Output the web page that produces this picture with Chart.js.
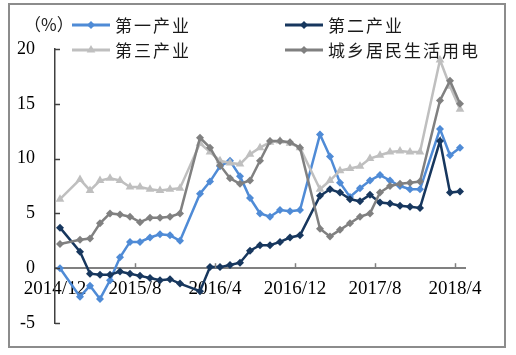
<!DOCTYPE html>
<html>
<head>
<meta charset="utf-8">
<script src="https://cdn.jsdelivr.net/npm/chart.js@4.4.1/dist/chart.umd.min.js"></script>
<style>
  html, body { margin: 0; padding: 0; background: #fff; }
  canvas { display: block; }
</style>
</head>
<body>
<canvas id="power" width="516" height="355"></canvas>
<script>
// months 2014/12 .. 2018/4 (January figures are not published separately -> null)
const months = [
  "2014/12",
  "2015/1", "2015/2", "2015/3", "2015/4", "2015/5", "2015/6", "2015/7", "2015/8", "2015/9", "2015/10", "2015/11", "2015/12",
  "2016/1", "2016/2", "2016/3", "2016/4", "2016/5", "2016/6", "2016/7", "2016/8", "2016/9", "2016/10", "2016/11", "2016/12",
  "2017/1", "2017/2", "2017/3", "2017/4", "2017/5", "2017/6", "2017/7", "2017/8", "2017/9", "2017/10", "2017/11", "2017/12",
  "2018/1", "2018/2", "2018/3", "2018/4"
];
const tickMonths = ["2014/12", "2015/8", "2016/4", "2016/12", "2017/8", "2018/4"];
const yTicks = [-5, 0, 5, 10, 15, 20];

const primary = [0, null, -2.6, -1.6, -2.8, -1.1, 1.0, 2.4, 2.4, 2.8, 3.1, 3.0, 2.5,
  null, 6.8, 7.9, 9.3, 9.8, 8.4, 6.4, 5.0, 4.7, 5.3, 5.2, 5.3,
  null, 12.2, 10.2, 7.8, 6.5, 7.3, 8.0, 8.5, 8.0, 7.5, 7.2, 7.2,
  null, 12.7, 10.3, 11.0];
const secondary = [3.7, null, 1.5, -0.5, -0.6, -0.6, -0.3, -0.5, -0.7, -0.9, -1.1, -1.0, -1.4,
  null, -2.1, 0.1, 0.1, 0.3, 0.5, 1.6, 2.1, 2.1, 2.4, 2.8, 3.0,
  null, 6.6, 7.2, 6.9, 6.3, 6.1, 6.7, 6.0, 5.9, 5.7, 5.6, 5.5,
  null, 11.6, 6.9, 7.0];
const tertiary = [6.3, null, 8.1, 7.1, 8.0, 8.2, 8.0, 7.4, 7.4, 7.2, 7.1, 7.2, 7.3,
  null, 11.4, 10.6, 9.8, 9.6, 9.5, 10.4, 11.0, 11.5, 11.6, 11.4, 11.0,
  null, 7.2, 8.0, 8.9, 9.1, 9.3, 10.0, 10.3, 10.6, 10.7, 10.6, 10.6,
  null, 19.0, 16.6, 14.5];
const household = [2.2, null, 2.6, 2.7, 4.1, 5.0, 4.9, 4.7, 4.2, 4.6, 4.6, 4.7, 5.0,
  null, 11.9, 11.0, 9.4, 8.2, 7.7, 8.0, 9.8, 11.6, 11.6, 11.5, 11.0,
  null, 3.6, 2.9, 3.5, 4.1, 4.7, 5.0, 6.9, 7.5, 7.7, 7.8, 7.9,
  null, 15.3, 17.1, 15.0];

const names = ["第一产业", "第二产业", "第三产业", "城乡居民生活用电"];
const colors = ["#4f8bd6", "#17375e", "#bfbfbf", "#808080"];
const shapes = ["rectRot", "rectRot", "triangle", "rectRot"];

const serif = "'Liberation Serif', 'Times New Roman', serif";
const cjk = "'Noto Sans CJK SC', sans-serif";

function toPoints(arr) {
  return arr.map((v, i) => ({ x: i + 0.5, y: v }));
}

const seriesData = [primary, secondary, tertiary, household];
const datasets = seriesData.map((arr, k) => ({
  label: names[k],
  data: toPoints(arr),
  borderColor: colors[k],
  backgroundColor: colors[k],
  borderWidth: 2.5,
  pointStyle: shapes[k],
  pointRadius: shapes[k] === "triangle" ? 5 : 4,
  pointBorderWidth: 0,
  spanGaps: true,
  tension: 0,
  order: 3 - k
}));

// frame, inside ticks, legend
const decor = {
  id: "decor",
  afterDraw(chart) {
    const ctx = chart.ctx;
    const xs = chart.scales.x;
    const ys = chart.scales.y;
    const area = chart.chartArea;
    ctx.save();
    // inside tick marks
    ctx.strokeStyle = "#404040";
    ctx.lineWidth = 1.5;
    yTicks.forEach(v => {
      const y = Math.round(ys.getPixelForValue(v)) + 0.5;
      ctx.beginPath();
      ctx.moveTo(area.left, y);
      ctx.lineTo(area.left + 5, y);
      ctx.stroke();
    });
    ctx.strokeStyle = "#808080";
    const y0 = ys.getPixelForValue(0);
    tickMonths.slice(1).forEach(m => {
      const x = Math.round(xs.getPixelForValue(months.indexOf(m))) + 0.5;
      ctx.beginPath();
      ctx.moveTo(x, y0);
      ctx.lineTo(x, y0 - 5);
      ctx.stroke();
    });

    // legend
    const slots = [[72, 25], [285, 25], [72, 50], [285, 50]];
    ctx.font = "17px " + cjk;
    ctx.textBaseline = "middle";
    ctx.fillStyle = "#1a1a1a";
    ctx.fillText("（%）", 24, 25);
    datasets.forEach((ds, k) => {
      const [lx, ly] = slots[k];
      ctx.strokeStyle = ds.borderColor;
      ctx.fillStyle = ds.borderColor;
      ctx.lineWidth = 3;
      ctx.beginPath();
      ctx.moveTo(lx, ly);
      ctx.lineTo(lx + 38, ly);
      ctx.stroke();
      Chart.helpers.drawPoint(ctx, { pointStyle: ds.pointStyle, radius: ds.pointRadius, borderWidth: 0 }, lx + 19, ly);
      ctx.fillStyle = "#1a1a1a";
      if ("letterSpacing" in ctx) ctx.letterSpacing = "2px";
      ctx.fillText(ds.label, lx + 43, ly + 1);
      if ("letterSpacing" in ctx) ctx.letterSpacing = "0px";
    });

    // outer frame
    ctx.strokeStyle = "#8c8c8c";
    ctx.lineWidth = 2;
    ctx.strokeRect(9, 4, 496, 343);
    ctx.restore();
  }
};

new Chart(document.getElementById("power"), {
  type: "line",
  data: { datasets: datasets },
  options: {
    responsive: false,
    animation: false,
    devicePixelRatio: 1,
    layout: { padding: { left: 0, right: 51, top: 49, bottom: 32 } },
    plugins: { legend: { display: false }, tooltip: { enabled: false } },
    scales: {
      x: {
        type: "linear",
        min: 0,
        max: 41,
        position: { y: 0 },
        grid: { display: true, drawOnChartArea: false, drawTicks: false },
        border: { color: "#808080", width: 2 },
        afterBuildTicks: s => {
          s.ticks = tickMonths.map(m => ({ value: months.indexOf(m) }));
        },
        ticks: {
          autoSkip: false,
          maxRotation: 0,
          padding: 9,
          color: "#000",
          font: { family: serif, size: 19 },
          callback: v => months[v]
        }
      },
      y: {
        min: -5,
        max: 20,
        grid: { display: true, drawOnChartArea: false, drawTicks: false },
        border: { color: "#404040", width: 1.5 },
        afterFit: s => { s.width = 55; },
        afterBuildTicks: s => {
          s.ticks = yTicks.map(v => ({ value: v }));
        },
        ticks: {
          padding: 20,
          color: "#000",
          font: { family: serif, size: 18 }
        }
      }
    }
  },
  plugins: [decor]
});
</script>
</body>
</html>
